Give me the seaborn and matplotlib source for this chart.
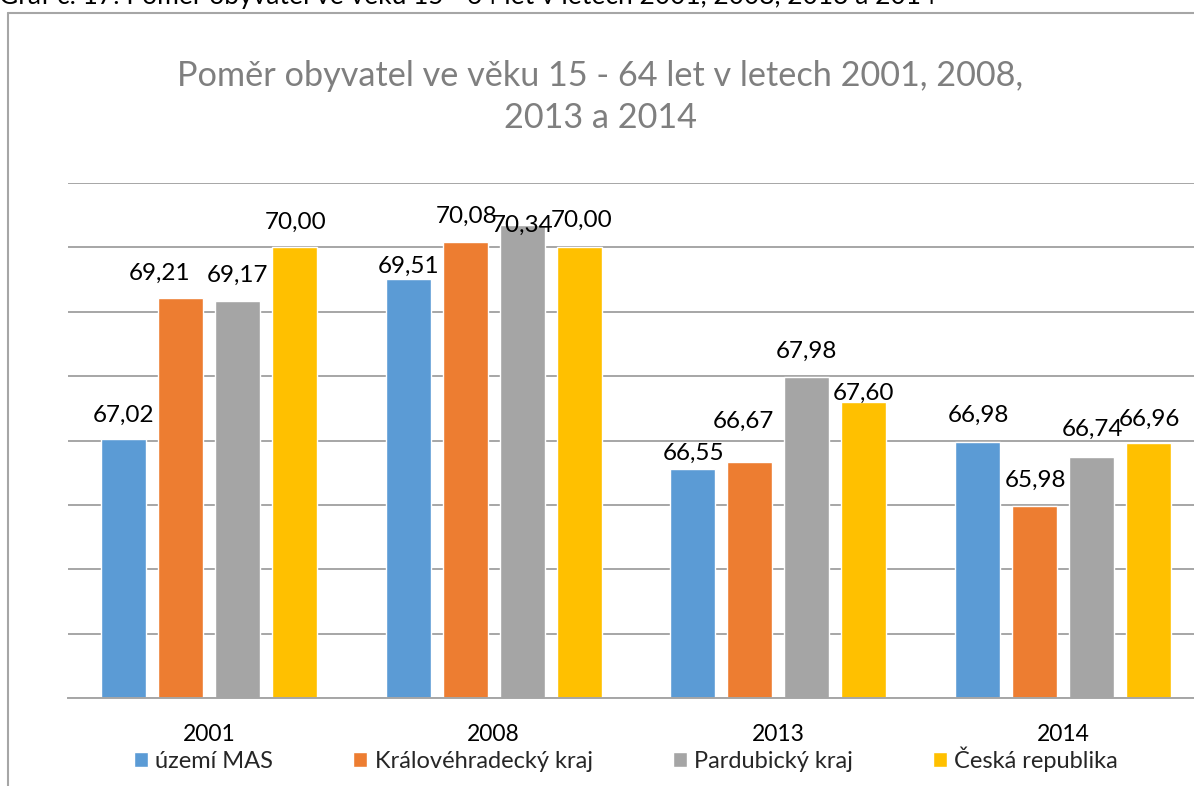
import pandas as pd
import seaborn as sns
import matplotlib.pyplot as plt
from matplotlib.lines import Line2D

# data
roky = ['2001', '2008', '2013', '2014']
oblasti = ['území MAS', 'Královéhradecký kraj', 'Pardubický kraj', 'Česká republika']
uzemi_mas = [67.02, 69.51, 66.55, 66.98]
kralovehradecky = [69.21, 70.08, 66.67, 65.98]
pardubicky = [69.17, 70.34, 67.98, 66.74]
cesko = [70.00, 70.00, 67.60, 66.96]

barvy = ['#5B9BD5', '#ED7D31', '#A5A5A5', '#FFC000']

# label shifts (px): dx, gap above bar top
posuny = [
    [(0, 17), (0, 6), (1, 10), (1, 20)],
    [(-21, 18), (1, 19), (-6, 34), (1, 19)],
    [(0, 19), (1, -6), (0, 20), (1, 21)],
    [(1, 19), (3, 21), (0, 2), (1, 17)],
]

df = pd.DataFrame({
    'rok': roky * 4,
    'oblast': [o for o in oblasti for _ in roky],
    'hodnota': uzemi_mas + kralovehradecky + pardubicky + cesko,
})

sns.set_style('white')
plt.rcParams['font.family'] = ['Lato', 'DejaVu Sans']

W, H = 1194, 786
fig = plt.figure(figsize=(W / 100, H / 100), dpi=100)
ax = fig.add_axes([68 / W, 1 - 698 / H, 1 - 68 / W, (698 - 183) / H])

sns.barplot(data=df, x='rok', y='hodnota', hue='oblast', order=roky, hue_order=oblasti,
            palette=barvy, width=0.8, gap=0.21, saturation=1, ax=ax)

ax.set_ylim(63, 71)
ax.set_xlim(-0.495, 3.46)
ax.set_yticks(range(63, 72))
ax.set_yticklabels([])
ax.grid(axis='y', color='#a6a6a6', linewidth=1.4)
ax.set_axisbelow(True)
for s in ['top', 'right', 'left']:
    ax.spines[s].set_visible(False)
ax.spines['bottom'].set_color('#a6a6a6')
ax.spines['bottom'].set_linewidth(1.4)
ax.set_xlabel('')
ax.set_ylabel('')
ax.tick_params(axis='x', length=0, pad=19, labelsize=16.5, labelcolor='black')
ax.tick_params(axis='y', length=0)

for i, cont in enumerate(ax.containers):
    for j, bar in enumerate(cont):
        val = bar.get_height()
        dx, dy = posuny[i][j]
        ax.annotate(f'{val:.2f}'.replace('.', ','),
                    (bar.get_x() + bar.get_width() / 2, val),
                    xytext=(dx, dy), textcoords='offset pixels',
                    ha='center', va='baseline', fontsize=17.5, color='black',
                    annotation_clip=False)

handles, labels = ax.get_legend_handles_labels()
ax.legend(handles, labels, loc='center', ncol=4, frameon=False, fontsize=17,
          bbox_to_anchor=(626 / W, 1 - 759 / H), bbox_transform=fig.transFigure,
          handlelength=0.6, handleheight=0.6, handletextpad=0.3,
          columnspacing=3.4, borderaxespad=0)

fig.text(600 / W, 1 - 97 / H, 'Poměr obyvatel ve věku 15 - 64 let v letech 2001, 2008,\n2013 a 2014',
         ha='center', va='center', fontsize=24.7, color='#7f7f7f', linespacing=1.4)

fig.text(-1 / W, 1 - 4 / H,
         'Graf č. 17: Poměr obyvatel ve věku 15 - 64 let v letech 2001, 2008, 2013 a 2014',
         ha='left', va='baseline', fontsize=19, color='black')

# chart frame
fig.add_artist(Line2D([7.5 / W, 7.5 / W], [0, 1 - 13 / H], transform=fig.transFigure,
                      color='#a6a6a6', linewidth=1.5))
fig.add_artist(Line2D([7.5 / W, 1], [1 - 13 / H, 1 - 13 / H], transform=fig.transFigure,
                      color='#a6a6a6', linewidth=1.5))

fig.savefig('out.png', dpi=100)
